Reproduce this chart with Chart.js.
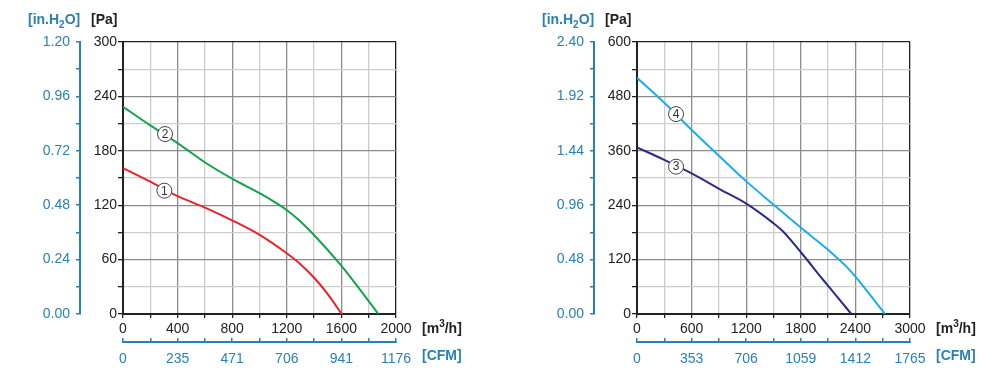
<!DOCTYPE html>
<html>
<head>
<meta charset="utf-8">
<script src="https://cdn.jsdelivr.net/npm/chart.js@4.4.1/dist/chart.umd.min.js"></script>
<style>
  body { margin: 0; width: 1006px; height: 372px; background: #fff; position: relative; overflow: hidden;
         font-family: "Liberation Sans", Arial, sans-serif; }
  .box { position: absolute; top: 0; width: 492px; height: 372px; }
  .unit { position: absolute; font-weight: bold; font-size: 14px; line-height: 16px; white-space: nowrap; color: #222; }
  .blue { color: #2a80b4; }
  .sub { font-size: 10px; position: relative; top: 4px; }
  .sup { font-size: 10px; position: relative; top: -6px; }
</style>
</head>
<body>
<div class="box" style="left:0"><canvas id="leftChart" width="492" height="372"></canvas></div>
<div class="box" style="left:514px"><canvas id="rightChart" width="492" height="372"></canvas></div>

<div class="unit blue" style="left:28px;top:11px">[in.H<span class="sub">2</span>O]</div>
<div class="unit" style="left:91px;top:11px">[Pa]</div>
<div class="unit" style="left:422px;top:320px">[m<span class="sup">3</span>/h]</div>
<div class="unit blue" style="left:422px;top:347px">[CFM]</div>

<div class="unit blue" style="left:542px;top:11px">[in.H<span class="sub">2</span>O]</div>
<div class="unit" style="left:605px;top:11px">[Pa]</div>
<div class="unit" style="left:936px;top:320px">[m<span class="sup">3</span>/h]</div>
<div class="unit blue" style="left:936px;top:347px">[CFM]</div>

<script>
// ---- datos ----
// grafico izquierdo: curvas 1 (rojo) y 2 (verde)
const flow1 = [0, 200, 393, 613, 803, 1004, 1199, 1300, 1400, 1500, 1602];
const press1 = [161, 146, 130.5, 116.5, 103, 87, 67, 55, 40, 22, 0];
const flow2 = [0, 200, 405, 613, 803, 1004, 1100, 1199, 1300, 1394, 1590, 1736, 1871];
const press2 = [228.6, 208, 188, 166, 149, 133, 124.5, 114.7, 102, 88, 55, 27, 0];

// grafico derecho: curvas 3 (azul oscuro) y 4 (celeste)
const flow3 = [0, 300, 601, 912, 1205, 1495, 1608, 1810, 2047, 2200, 2355];
const press3 = [367.6, 340, 310, 275, 243, 201, 181.5, 134, 75, 38, 0];
const flow4 = [0, 300, 601, 912, 1205, 1505, 1810, 2103, 2304, 2414, 2725];
const press4 = [521, 466, 406, 347, 292, 240.5, 189, 141, 104, 79, 0];

// etiquetas circulares de las curvas
const tagNumLeft = ['1', '2'];
const tagFlowLeft = [303, 308];
const tagPressLeft = [136, 198.5];
const tagNumRight = ['3', '4'];
const tagFlowRight = [429, 429];
const tagPressRight = [325, 441];

// ejes
const flowTicksLeft = [0, 200, 400, 600, 800, 1000, 1200, 1400, 1600, 1800, 2000];
const flowTicksRight = [0, 300, 600, 900, 1200, 1500, 1800, 2100, 2400, 2700, 3000];
const paTicksLeft = [0, 30, 60, 90, 120, 150, 180, 210, 240, 270, 300];
const paTicksRight = [0, 60, 120, 180, 240, 300, 360, 420, 480, 540, 600];
const inchTicksLeft = [0, 0.12, 0.24, 0.36, 0.48, 0.60, 0.72, 0.84, 0.96, 1.08, 1.20];
const inchTicksRight = [0, 0.24, 0.48, 0.72, 0.96, 1.20, 1.44, 1.68, 1.92, 2.16, 2.40];
const cfmLabelsLeft = ['0', '235', '471', '706', '941', '1176'];
const cfmLabelsRight = ['0', '353', '706', '1059', '1412', '1765'];
const CFM_FACTOR = 1.7;

const BLUE = '#2a80b4';
const GRID_MAJOR = '#8c8c8c';
const GRID_MINOR = '#cdcdcd';

function toPoints(xs, ys) {
    return xs.map((x, i) => ({ x: x, y: ys[i] }));
}

function setTicks(values) {
    return function(scale) {
        scale.ticks = values.map(v => ({ value: v }));
    };
}

function gridColor(last) {
    return function(ctx) {
        if (ctx.index === last) return '#222';
        return ctx.index % 2 === 0 ? GRID_MAJOR : GRID_MINOR;
    };
}

// dibuja los numeros en circulo sobre las curvas
const tagPlugin = {
    id: 'tags',
    afterDatasetsDraw(chart, args, opts) {
        const ctx = chart.ctx;
        const xs = chart.scales.x, ys = chart.scales.y;
        ctx.save();
        opts.nums.forEach((n, i) => {
            const px = xs.getPixelForValue(opts.flow[i]);
            const py = ys.getPixelForValue(opts.press[i]);
            ctx.beginPath();
            ctx.arc(px, py, 7.5, 0, Math.PI * 2);
            ctx.fillStyle = '#fff';
            ctx.fill();
            ctx.lineWidth = 1;
            ctx.strokeStyle = '#444';
            ctx.stroke();
            ctx.fillStyle = '#333';
            ctx.font = '12px "Liberation Sans", Arial, sans-serif';
            ctx.textAlign = 'center';
            ctx.textBaseline = 'middle';
            ctx.fillText(n, px, py + 0.5);
        });
        ctx.restore();
    }
};

function makeChart(id, c) {
    const cfmTicks = c.flowTicks.map(v => v / CFM_FACTOR);
    const n = c.flowTicks.length - 1;
    return new Chart(document.getElementById(id), {
        type: 'line',
        data: {
            datasets: c.series.map(s => ({
                data: toPoints(s.flow, s.press),
                borderColor: s.color,
                borderWidth: 2,
                pointRadius: 0,
                cubicInterpolationMode: 'monotone',
                fill: false
            }))
        },
        options: {
            responsive: false,
            animation: false,
            events: [],
            layout: { padding: { top: 42, right: 96, bottom: 0, left: 0 } },
            plugins: {
                legend: { display: false },
                tooltip: { enabled: false },
                tags: c.tags
            },
            scales: {
                x: {
                    type: 'linear', position: 'bottom', weight: 0,
                    min: 0, max: c.flowTicks[n],
                    afterBuildTicks: setTicks(c.flowTicks),
                    afterFit: s => { s.height = 28; },
                    grid: { color: gridColor(n), tickColor: '#222', tickLength: 4, lineWidth: 1.3 },
                    border: { color: '#222', width: 2 },
                    ticks: {
                        color: '#222', font: { size: 14, family: '"Liberation Sans", Arial' },
                        padding: 3, maxRotation: 0, autoSkip: false,
                        callback: (v, i) => i % 2 === 0 ? String(v) : ''
                    }
                },
                cfm: {
                    type: 'linear', position: 'bottom', weight: 1,
                    min: 0, max: cfmTicks[n],
                    afterBuildTicks: setTicks(cfmTicks),
                    afterFit: s => { s.height = 30; },
                    grid: { drawOnChartArea: false, color: BLUE, tickLength: -4, lineWidth: 1.5 },
                    border: { color: BLUE, width: 2 },
                    ticks: {
                        color: BLUE, font: { size: 14, family: '"Liberation Sans", Arial' },
                        padding: 13, maxRotation: 0, autoSkip: false,
                        callback: (v, i) => i % 2 === 0 ? c.cfmLabels[i / 2] : ''
                    }
                },
                y: {
                    type: 'linear', position: 'left', weight: 0,
                    min: 0, max: c.paTicks[n],
                    afterBuildTicks: setTicks(c.paTicks),
                    afterFit: s => { s.width = 43; },
                    grid: { color: gridColor(n), tickColor: '#222', tickLength: 5, lineWidth: 1.3 },
                    border: { color: '#222', width: 2 },
                    ticks: {
                        color: '#222', font: { size: 14, family: '"Liberation Sans", Arial' },
                        padding: 1, autoSkip: false,
                        callback: (v, i) => i % 2 === 0 ? String(v) : ''
                    }
                },
                inch: {
                    type: 'linear', position: 'left', weight: 1,
                    min: 0, max: c.inchTicks[n],
                    afterBuildTicks: setTicks(c.inchTicks),
                    afterFit: s => { s.width = 80; },
                    grid: { drawOnChartArea: false, color: BLUE, tickLength: 4, lineWidth: 1.5 },
                    border: { color: BLUE, width: 2 },
                    ticks: {
                        color: BLUE, font: { size: 14, family: '"Liberation Sans", Arial' },
                        padding: 6, autoSkip: false,
                        callback: (v, i) => i % 2 === 0 ? v.toFixed(2) : ''
                    }
                }
            }
        },
        plugins: [tagPlugin]
    });
}

makeChart('leftChart', {
    flowTicks: flowTicksLeft,
    paTicks: paTicksLeft,
    inchTicks: inchTicksLeft,
    cfmLabels: cfmLabelsLeft,
    series: [
        { flow: flow1, press: press1, color: '#e8242b' },
        { flow: flow2, press: press2, color: '#14a24b' }
    ],
    tags: { nums: tagNumLeft, flow: tagFlowLeft, press: tagPressLeft }
});

makeChart('rightChart', {
    flowTicks: flowTicksRight,
    paTicks: paTicksRight,
    inchTicks: inchTicksRight,
    cfmLabels: cfmLabelsRight,
    series: [
        { flow: flow3, press: press3, color: '#2d2b86' },
        { flow: flow4, press: press4, color: '#1badea' }
    ],
    tags: { nums: tagNumRight, flow: tagFlowRight, press: tagPressRight }
});
</script>
</body>
</html>
